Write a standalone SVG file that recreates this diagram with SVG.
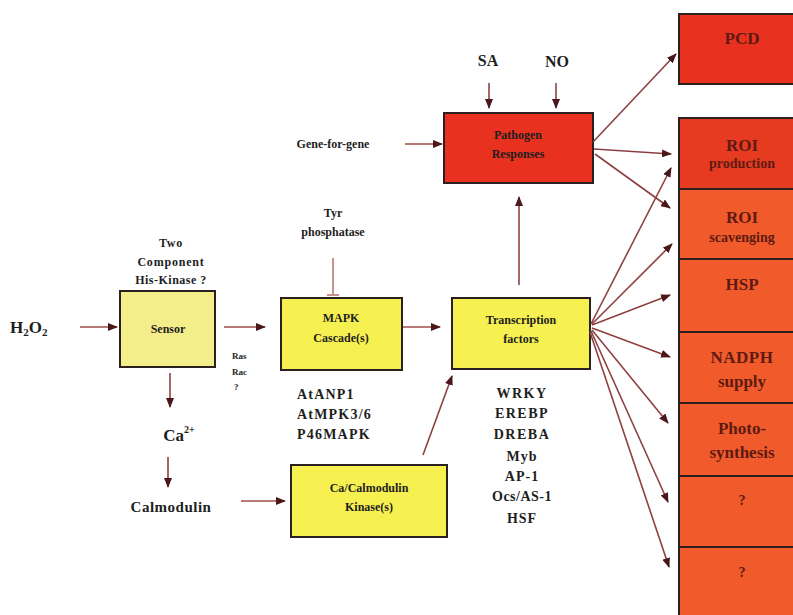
<svg xmlns="http://www.w3.org/2000/svg" width="793" height="615" viewBox="0 0 793 615">
<style>
text{font-family:"Liberation Serif","Times New Roman",serif;font-weight:bold;fill:#1e1e1e}
.c{text-anchor:middle}
.box{stroke:#2a2020;stroke-width:2}
.y1{fill:#f4ee8a}
.y2{fill:#f6f050}
.red{fill:#e8321f}
.org{fill:#f15a2b}
.rt{fill:#5e1a12;text-anchor:middle}
.ln{stroke:#8e4040;stroke-width:1.6;fill:none}
.lnp{stroke:#b77a78;stroke-width:2;fill:none}
</style>
<defs>
<marker id="ah" markerWidth="10" markerHeight="8" refX="9" refY="4" orient="auto" markerUnits="userSpaceOnUse">
<path d="M0,0 L10,4 L0,8 Z" fill="#4a1818"/>
</marker>
</defs>

<g id="right-column">
<g id="pcd"><rect class="box red" x="679" y="14" width="130" height="70"/><text class="rt" x="742" y="44" font-size="17">PCD</text></g>
<g id="roi-production"><rect class="box" fill="#e63a21" x="679" y="118" width="130" height="71"/><text class="rt" x="742" y="151" font-size="17">ROI</text><text class="rt" x="742" y="168" font-size="14">production</text></g>
<g id="roi-scavenging"><rect class="box org" x="679" y="189" width="130" height="70"/><text class="rt" x="742" y="223" font-size="17">ROI</text><text class="rt" x="742" y="242" font-size="14">scavenging</text></g>
<g id="hsp"><rect class="box org" x="679" y="259" width="130" height="73"/><text class="rt" x="742" y="290" font-size="17">HSP</text></g>
<g id="nadph"><rect class="box org" x="679" y="332" width="130" height="71"/><text class="rt" x="742" y="363" font-size="17" letter-spacing="0.5">NADPH</text><text class="rt" x="742" y="387" font-size="17">supply</text></g>
<g id="photosynthesis"><rect class="box org" x="679" y="403" width="130" height="73"/><text class="rt" x="742" y="434" font-size="17">Photo-</text><text class="rt" x="742" y="458" font-size="17">synthesis</text></g>
<g id="q1"><rect class="box org" x="679" y="476" width="130" height="71"/><text class="rt" x="742" y="505" font-size="14">?</text></g>
<g id="q2"><rect class="box org" x="679" y="547" width="130" height="75"/><text class="rt" x="742" y="577" font-size="14">?</text></g>
</g>

<g id="sensor"><rect class="box y1" x="120" y="291" width="95" height="76"/><text class="c" x="168" y="333" font-size="12" fill="#3a3410">Sensor</text></g>
<g id="mapk"><rect class="box y2" x="281" y="298" width="121" height="72"/><text class="c" x="341" y="322" font-size="12">MAPK</text><text class="c" x="341" y="342" font-size="12">Cascade(s)</text></g>
<g id="camk"><rect class="box y2" x="291" y="465" width="156" height="72"/><text class="c" x="369" y="492" font-size="12">Ca/Calmodulin</text><text class="c" x="369" y="511" font-size="12">Kinase(s)</text></g>
<g id="tf"><rect class="box y2" x="452" y="298" width="138" height="71"/><text class="c" x="521" y="324" font-size="12">Transcription</text><text class="c" x="521" y="343" font-size="12">factors</text></g>
<g id="pathogen"><rect class="box red" x="444" y="113" width="149" height="70"/><text class="c" x="518" y="139" font-size="12" fill="#5a1410">Pathogen</text><text class="c" x="518" y="158" font-size="12" fill="#5a1410">Responses</text></g>

<g id="labels">
<text x="10" y="333" font-size="17" font-weight="normal">H<tspan font-size="11" dy="3">2</tspan><tspan dy="-3">O</tspan><tspan font-size="11" dy="3">2</tspan></text>
<text class="c" x="171" y="247" font-size="12" letter-spacing="0.8">Two</text>
<text class="c" x="171" y="266" font-size="12" letter-spacing="0.8">Component</text>
<text class="c" x="171" y="284" font-size="12" letter-spacing="0.5">His-Kinase ?</text>
<text x="232" y="359" font-size="9">Ras</text>
<text x="232" y="375" font-size="9">Rac</text>
<text x="234" y="390" font-size="9">?</text>
<text class="c" x="179" y="441" font-size="17" font-weight="normal">Ca<tspan font-size="10" dy="-8">2+</tspan></text>
<text class="c" x="171" y="512" font-size="15" font-weight="normal" letter-spacing="0.5">Calmodulin</text>
<text class="c" x="333" y="217" font-size="12" font-weight="normal">Tyr</text>
<text class="c" x="333" y="236" font-size="12" font-weight="normal">phosphatase</text>
<text x="297" y="399" font-size="14" letter-spacing="1.2">AtANP1</text>
<text x="297" y="419" font-size="14" letter-spacing="1.2">AtMPK3/6</text>
<text x="297" y="439" font-size="14" letter-spacing="1.2">P46MAPK</text>
<text class="c" x="333" y="148" font-size="12" font-weight="normal">Gene-for-gene</text>
<text class="c" x="488" y="66" font-size="16" font-weight="normal">SA</text>
<text class="c" x="557" y="67" font-size="16" font-weight="normal">NO</text>
<text class="c" x="522" y="398" font-size="14" letter-spacing="1.5">WRKY</text>
<text class="c" x="522" y="418" font-size="14" letter-spacing="1.5">EREBP</text>
<text class="c" x="522" y="439" font-size="14" letter-spacing="1.5">DREBA</text>
<text class="c" x="522" y="461" font-size="14" letter-spacing="1">Myb</text>
<text class="c" x="522" y="481" font-size="14" letter-spacing="1">AP-1</text>
<text class="c" x="522" y="501" font-size="14" letter-spacing="0.5">Ocs/AS-1</text>
<text class="c" x="522" y="523" font-size="14" letter-spacing="1">HSF</text>
</g>

<g id="connectors">
<line class="lnp" x1="80" y1="327" x2="117" y2="327" marker-end="url(#ah)"/>
<line class="lnp" x1="224" y1="327" x2="265" y2="327" marker-end="url(#ah)"/>
<line class="ln" x1="170" y1="373" x2="170" y2="407" marker-end="url(#ah)"/>
<line class="ln" x1="168" y1="457" x2="168" y2="487" marker-end="url(#ah)"/>
<line class="lnp" x1="241" y1="501" x2="285" y2="501" marker-end="url(#ah)"/>
<line class="lnp" x1="403" y1="327" x2="440" y2="327" marker-end="url(#ah)"/>
<line class="ln" x1="423" y1="455" x2="452" y2="376" marker-end="url(#ah)"/>
<line x1="333" y1="258" x2="333" y2="295" stroke="#c9928c" stroke-width="2"/>
<line x1="327" y1="295" x2="339" y2="295" stroke="#c9928c" stroke-width="2"/>
<line class="lnp" x1="405" y1="144" x2="442" y2="144" marker-end="url(#ah)"/>
<line class="ln" x1="489" y1="83" x2="489" y2="108" marker-end="url(#ah)"/>
<line class="ln" x1="556" y1="83" x2="556" y2="108" marker-end="url(#ah)"/>
<line class="ln" x1="519" y1="285" x2="519" y2="197" marker-end="url(#ah)"/>
<line class="ln" x1="593" y1="142" x2="676" y2="54" marker-end="url(#ah)"/>
<line class="ln" x1="594" y1="149" x2="671" y2="154" marker-end="url(#ah)"/>
<line class="ln" x1="595" y1="154" x2="670" y2="208" marker-end="url(#ah)"/>
<line class="ln" x1="591" y1="324" x2="671" y2="168" marker-end="url(#ah)"/>
<line class="ln" x1="592" y1="324" x2="672" y2="244" marker-end="url(#ah)"/>
<line class="ln" x1="592" y1="325" x2="670" y2="295" marker-end="url(#ah)"/>
<line class="ln" x1="592" y1="328" x2="670" y2="357" marker-end="url(#ah)"/>
<line class="ln" x1="592" y1="330" x2="668" y2="423" marker-end="url(#ah)"/>
<line class="ln" x1="591" y1="331" x2="668" y2="502" marker-end="url(#ah)"/>
<line class="ln" x1="590" y1="332" x2="669" y2="567" marker-end="url(#ah)"/>
</g>
</svg>
